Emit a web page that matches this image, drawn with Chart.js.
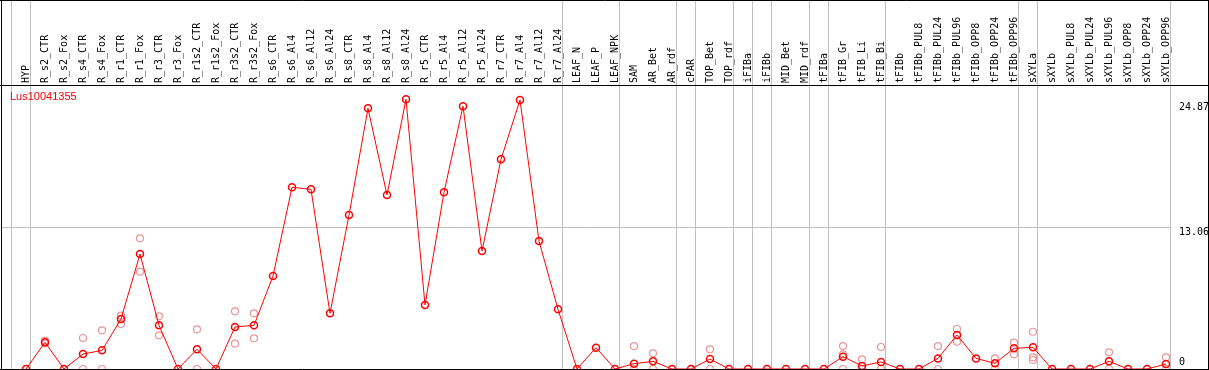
<!DOCTYPE html>
<html><head><meta charset="utf-8">
<script src="https://cdn.jsdelivr.net/npm/chart.js@4/dist/chart.umd.min.js"></script>
<style>html,body{margin:0;padding:0;background:#fff;}canvas{display:block;}</style>
</head><body>
<canvas id="c" width="1209" height="370"></canvas>
<script>
const chartTitle = 'Lus10041355';
const categories = ['HYP','R_s2_CTR','R_s2_Fox','R_s4_CTR','R_s4_Fox','R_r1_CTR','R_r1_Fox','R_r3_CTR','R_r3_Fox',
  'R_r1s2_CTR','R_r1s2_Fox','R_r3s2_CTR','R_r3s2_Fox','R_s6_CTR','R_s6_Al4','R_s6_Al12','R_s6_Al24',
  'R_s8_CTR','R_s8_Al4','R_s8_Al12','R_s8_Al24','R_r5_CTR','R_r5_Al4','R_r5_Al12','R_r5_Al24',
  'R_r7_CTR','R_r7_Al4','R_r7_Al12','R_r7_Al24','LEAF_N','LEAF_P','LEAF_NPK','SAM','AR_Bet','AR_rdf',
  'cPAR','TOP_Bet','TOP_rdf','iFIBa','iFIBb','MID_Bet','MID_rdf','tFIBa','tFIB_Gr','tFIB_Li','tFIB_Bi',
  'tFIBb','tFIBb_PUL8','tFIBb_PUL24','tFIBb_PUL96','tFIBb_OPP8','tFIBb_OPP24','tFIBb_OPP96',
  'sXYLa','sXYLb','sXYLb_PUL8','sXYLb_PUL24','sXYLb_PUL96','sXYLb_OPP8','sXYLb_OPP24','sXYLb_OPP96'];
// number of consecutive categories in each separated group
const groupSizes = [1, 28, 3, 3, 1, 2, 1, 1, 2, 1, 3, 7, 1, 7];
const meanValues = [0, 2.46, 0, 1.38, 1.72, 4.61, 10.61, 4.03, 0,
  1.82, 0, 3.88, 4.03, 8.58, 16.77, 16.58, 5.14,
  14.21, 24.06, 16.06, 24.9, 5.91, 16.31, 24.25, 10.89,
  19.35, 24.83, 11.81, 5.51, 0, 1.97, 0, 0.49, 0.71, 0,
  0, 0.92, 0, 0, 0, 0, 0, 0, 1.14, 0.28, 0.65,
  0, 0, 0.98, 3.14, 0.98, 0.52, 1.91,
  2.0, 0, 0, 0, 0.71, 0, 0, 0.46];
const rep1 = [null, 2.61, null, 2.86, 3.57, 4.92, 12.06, 4.86, null,
  3.66, null, 5.32, 5.14, null, null, null, null,
  null, null, null, null, null, null, null, null,
  null, null, null, null, null, null, null, 2.12, 1.45, null,
  null, 1.82, null, null, null, null, null, null, 2.12, 0.89, 2.03,
  null, null, 2.12, 3.69, null, 0.98, 2.43,
  3.44, null, null, null, 1.54, null, null, 1.08];
const rep2 = [null, 2.35, null, 0, 0, 4.15, 8.98, 3.11, null,
  0, null, 2.34, 2.83, null, null, null, null,
  null, null, null, null, null, null, null, null,
  null, null, null, null, null, null, null, 0, 0, null,
  null, 0, null, null, null, null, null, null, 1.35, 0, 0,
  null, null, 0, 2.52, null, 0, 1.35,
  1.08, null, null, null, 0, null, null, 0];
const rep3 = [null, null, null, null, null, null, null, null, null,
  null, null, null, null, null, null, null, null,
  null, null, null, null, null, null, null, null,
  null, null, null, null, null, null, null, null, null, null,
  null, null, null, null, null, null, null, null, 0, null, null,
  null, null, null, null, null, null, null,
  0.83, null, null, null, null, null, null, null];
const yTickValues = [0, 13.06, 24.87];
const yTickLabels = ['0', '13.06', '24.87'];
const gridLineValues = [13.06];

const MONO = "'DejaVu Sans Mono', monospace";
const labelShift = [-7, 4.5, 7.5];

const decor = {
  id: 'decor',
  beforeDatasetsDraw(chart) {
    const {ctx, scales: {x, y}} = chart;
    const H = chart.height;
    const step = x.getPixelForValue(1) - x.getPixelForValue(0);
    const x0 = x.getPixelForValue(0);
    ctx.save();
    ctx.strokeStyle = '#c0c0c0';
    ctx.lineWidth = 1;
    let idx = -1;
    const seps = [idx];
    groupSizes.forEach(n => { idx += n; seps.push(idx); });
    let lastX = 0;
    seps.forEach(i => {
      const px = Math.floor(x0 + i * step + step * 0.24) + 0.5;
      lastX = px;
      ctx.beginPath(); ctx.moveTo(px, 0); ctx.lineTo(px, H); ctx.stroke();
    });
    gridLineValues.forEach(v => {
      const py = Math.floor(y.getPixelForValue(v)) + 0.5;
      ctx.beginPath(); ctx.moveTo(1, py); ctx.lineTo(lastX, py); ctx.stroke();
    });
    ctx.restore();
  },
  afterDraw(chart) {
    const {ctx, chartArea, scales: {y}} = chart;
    const W = chart.width, H = chart.height;
    ctx.save();
    ctx.strokeStyle = '#000';
    ctx.lineWidth = 1;
    ctx.beginPath();
    ctx.moveTo(0, 0.5); ctx.lineTo(W, 0.5);
    ctx.moveTo(1.5, 0); ctx.lineTo(1.5, H);
    ctx.moveTo(W - 0.5, 0); ctx.lineTo(W - 0.5, H);
    ctx.moveTo(0, chartArea.top - 0.5); ctx.lineTo(W, chartArea.top - 0.5);
    ctx.moveTo(0, chartArea.bottom + 0.5); ctx.lineTo(W, chartArea.bottom + 0.5);
    ctx.stroke();
    ctx.font = '10px ' + MONO;
    ctx.fillStyle = '#000';
    ctx.textAlign = 'left';
    ctx.textBaseline = 'middle';
    y.ticks.forEach((t, i) => {
      const py = y.getPixelForValue(t.value);
      ctx.fillText(yTickLabels[i], chartArea.right + 13, py + labelShift[i]);
    });
    ctx.fillStyle = '#ff0000';
    ctx.font = "11px 'Liberation Sans', Arial, sans-serif";
    ctx.fillText(chartTitle, 10, 97);
    ctx.restore();
  }
};

const repStyle = {
  showLine: false,
  pointRadius: 3.5,
  pointBorderWidth: 1.2,
  pointBorderColor: '#eb9696',
  pointBackgroundColor: 'rgba(0,0,0,0)',
  borderColor: '#eb9696',
  clip: false
};

new Chart(document.getElementById('c'), {
  type: 'line',
  data: {
    labels: categories,
    datasets: [
      { label: 'mean', data: meanValues, borderColor: '#ff0000', borderWidth: 1, tension: 0,
        pointRadius: 3.5, pointBorderWidth: 1.5, pointBorderColor: '#ff0000',
        pointBackgroundColor: 'rgba(0,0,0,0)', clip: false },
      Object.assign({ label: 'rep1', data: rep1 }, repStyle),
      Object.assign({ label: 'rep2', data: rep2 }, repStyle),
      Object.assign({ label: 'rep3', data: rep3 }, repStyle)
    ]
  },
  options: {
    responsive: false,
    animation: false,
    events: [],
    layout: { autoPadding: false, padding: { left: 26, right: 43, top: 0, bottom: 1 } },
    plugins: { legend: { display: false }, tooltip: { enabled: false }, title: { display: false } },
    scales: {
      x: {
        position: 'top',
        offset: false,
        grid: { display: false, drawTicks: false },
        border: { display: false },
        ticks: { autoSkip: false, minRotation: 90, maxRotation: 90, padding: 3, labelOffset: 12,
                 color: '#000', font: { family: MONO, size: 10 } },
        afterFit(scale) { scale.height = 86; }
      },
      y: {
        display: false,
        min: 0,
        max: 26.12,
        afterBuildTicks(scale) { scale.ticks = yTickValues.map(v => ({ value: v })); }
      }
    }
  },
  plugins: [decor]
});
</script>
</body></html>
